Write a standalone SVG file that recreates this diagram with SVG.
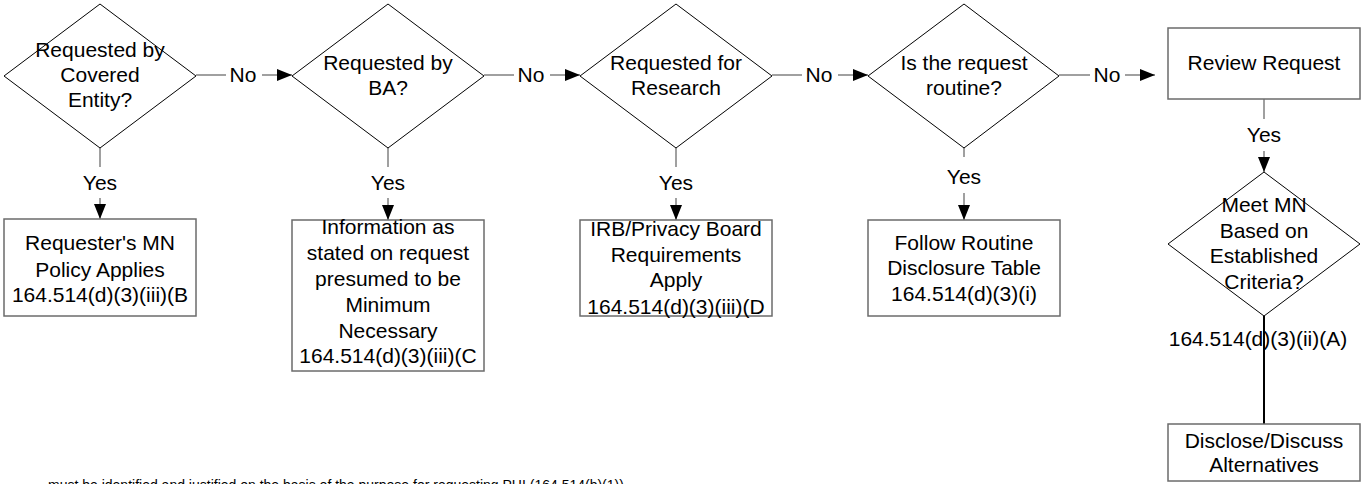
<svg xmlns="http://www.w3.org/2000/svg" width="1362" height="484" viewBox="0 0 1362 484">
<defs>
<marker id="arr" viewBox="0 0 15 12" refX="15" refY="6" markerWidth="15" markerHeight="12" markerUnits="userSpaceOnUse" orient="auto">
<path d="M0,0 L15,6 L0,12 Z" fill="#000"/>
</marker>
<style>
text{font-family:"Liberation Sans",Arial,sans-serif;font-size:21px;fill:#000;text-anchor:middle}
.dia{fill:#fff;stroke:#000;stroke-width:1}
.box{fill:#fff;stroke:#6b6b6b;stroke-width:1.5}
.con{fill:none;stroke:#808080;stroke-width:1.5}
.conb{fill:none;stroke:#000;stroke-width:2}
</style>
</defs>
<rect width="1362" height="484" fill="#fff"/>

<g id="connectors">
<line class="con" x1="196" y1="75" x2="226" y2="75"/>
<text x="243" y="82">No</text>
<line class="con" x1="262" y1="75" x2="292" y2="75" marker-end="url(#arr)"/>

<line class="con" x1="484" y1="75" x2="514" y2="75"/>
<text x="531" y="82">No</text>
<line class="con" x1="550" y1="75" x2="580" y2="75" marker-end="url(#arr)"/>

<line class="con" x1="772" y1="75" x2="802" y2="75"/>
<text x="819" y="82">No</text>
<line class="con" x1="838" y1="75" x2="868" y2="75" marker-end="url(#arr)"/>

<line class="con" x1="1059" y1="75" x2="1090" y2="75"/>
<text x="1107" y="82">No</text>
<line class="con" x1="1125" y1="75" x2="1155" y2="75" marker-end="url(#arr)"/>

<line class="con" x1="100" y1="148" x2="100" y2="167"/>
<text x="100" y="190">Yes</text>
<line class="con" x1="100" y1="198" x2="100" y2="219" marker-end="url(#arr)"/>

<line class="con" x1="388" y1="148" x2="388" y2="167"/>
<text x="388" y="190">Yes</text>
<line class="con" x1="388" y1="198" x2="388" y2="220" marker-end="url(#arr)"/>

<line class="con" x1="676" y1="148" x2="676" y2="167"/>
<text x="676" y="190">Yes</text>
<line class="con" x1="676" y1="198" x2="676" y2="220" marker-end="url(#arr)"/>

<line class="con" x1="964" y1="135" x2="964" y2="157"/>
<text x="964" y="184">Yes</text>
<line class="con" x1="964" y1="193" x2="964" y2="220" marker-end="url(#arr)"/>

<line class="con" x1="1264" y1="99" x2="1264" y2="119"/>
<text x="1264" y="142">Yes</text>
<line class="con" x1="1264" y1="151" x2="1264" y2="172" marker-end="url(#arr)"/>

<text x="1258" y="346">164.514(d)(3)(ii)(A)</text>
<line class="conb" x1="1264" y1="316" x2="1264" y2="424"/>
</g>

<g id="d1">
<polygon class="dia" points="100,4 196,76 100,148 4,76"/>
<text x="100" y="57">Requested by</text>
<text x="100" y="82">Covered</text>
<text x="100" y="107">Entity?</text>
</g>
<g id="d2">
<polygon class="dia" points="388,4 484,76 388,148 292,76"/>
<text x="388" y="70">Requested by</text>
<text x="388" y="95">BA?</text>
</g>
<g id="d3">
<polygon class="dia" points="676,4 772,76 676,148 580,76"/>
<text x="676" y="70">Requested for</text>
<text x="676" y="95">Research</text>
</g>
<g id="d4">
<polygon class="dia" points="964,4 1059,76 964,148 868,76"/>
<text x="964" y="70">Is the request</text>
<text x="964" y="95">routine?</text>
</g>
<g id="review">
<rect class="box" x="1168" y="28" width="192" height="71"/>
<text x="1264" y="70">Review Request</text>
</g>
<g id="d5">
<polygon class="dia" points="1264,172 1360,244 1264,316 1168,244"/>
<text x="1264" y="212">Meet MN</text>
<text x="1264" y="238">Based on</text>
<text x="1264" y="263">Established</text>
<text x="1264" y="289">Criteria?</text>
</g>

<g id="b1">
<rect class="box" x="4" y="219" width="192" height="97"/>
<text x="100" y="250">Requester's MN</text>
<text x="100" y="277">Policy Applies</text>
<text x="100" y="302">164.514(d)(3)(iii)(B</text>
</g>
<g id="b2">
<rect class="box" x="292" y="220" width="192" height="151"/>
<text x="388" y="234">Information as</text>
<text x="388" y="260">stated on request</text>
<text x="388" y="286">presumed to be</text>
<text x="388" y="312">Minimum</text>
<text x="388" y="338">Necessary</text>
<text x="388" y="363">164.514(d)(3)(iii)(C</text>
</g>
<g id="b3">
<rect class="box" x="580" y="220" width="192" height="96"/>
<text x="676" y="236">IRB/Privacy Board</text>
<text x="676" y="262">Requirements</text>
<text x="676" y="287">Apply</text>
<text x="676" y="314">164.514(d)(3)(iii)(D</text>
</g>
<g id="b4">
<rect class="box" x="868" y="220" width="192" height="96"/>
<text x="964" y="250">Follow Routine</text>
<text x="964" y="275">Disclosure Table</text>
<text x="964" y="301">164.514(d)(3)(i)</text>
</g>
<g id="b5">
<rect class="box" x="1168" y="424" width="192" height="57"/>
<text x="1264" y="448">Disclose/Discuss</text>
<text x="1264" y="472">Alternatives</text>
</g>

<g id="note">
<text x="48" y="490" style="text-anchor:start;font-size:14px">must be identified and justified on the basis of the purpose for requesting PHI (164.514(b)(1))</text>
</g>
</svg>
